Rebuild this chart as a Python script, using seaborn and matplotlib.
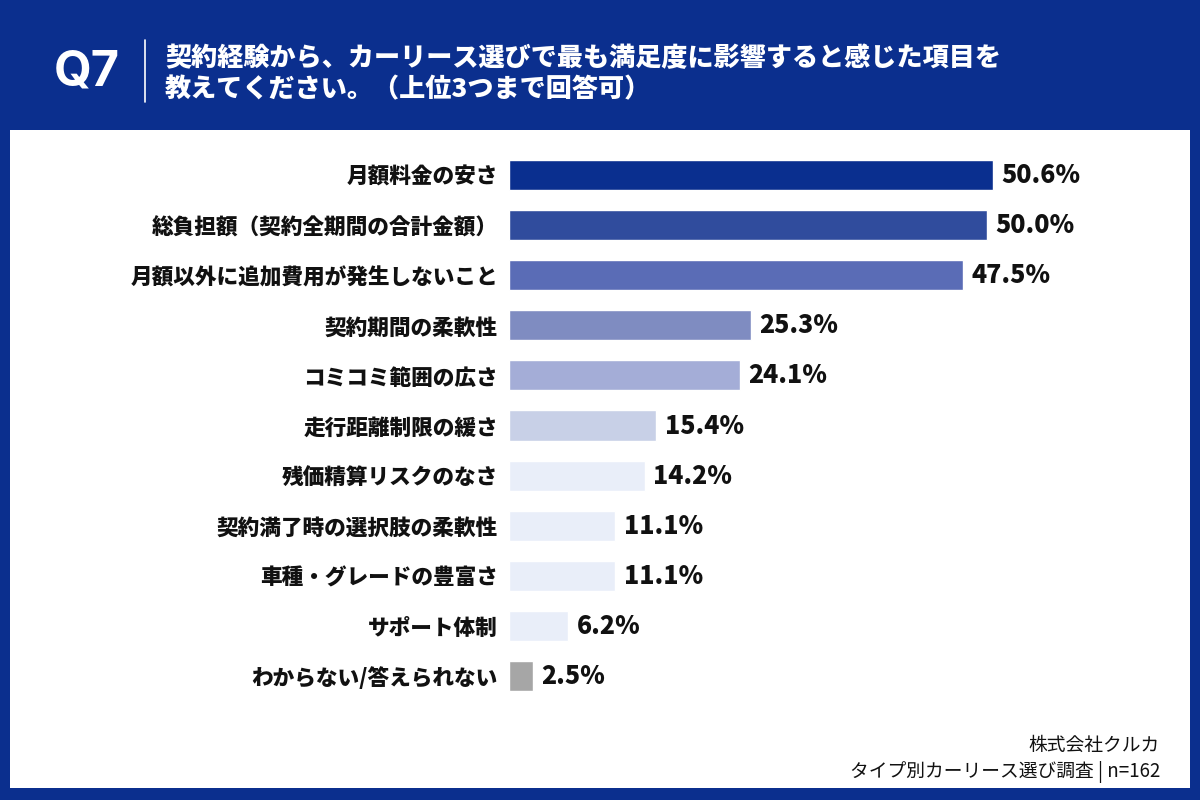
import matplotlib
matplotlib.use("Agg")
import matplotlib.pyplot as plt
import seaborn as sns
from matplotlib.patches import Rectangle
from matplotlib.lines import Line2D

# --- data ---
items = [
    "月額料金の安さ",
    "総負担額（契約全期間の合計金額）",
    "月額以外に追加費用が発生しないこと",
    "契約期間の柔軟性",
    "コミコミ範囲の広さ",
    "走行距離制限の緩さ",
    "残価精算リスクのなさ",
    "契約満了時の選択肢の柔軟性",
    "車種・グレードの豊富さ",
    "サポート体制",
    "わからない/答えられない",
]
shares = [50.6, 50.0, 47.5, 25.3, 24.1, 15.4, 14.2, 11.1, 11.1, 6.2, 2.5]
bar_colors = ["#0a2f8f", "#304c9d", "#5a6cb6", "#7f8cc1", "#a4add7", "#c8d0e7",
              "#e9eef9", "#e9eef9", "#e9eef9", "#e9eef9", "#a6a6a6"]

title_lines = "契約経験から、カーリース選びで最も満足度に影響すると感じた項目を\n教えてください。（上位3つまで回答可）"
source_lines = "株式会社クルカ\nタイプ別カーリース選び調査 | n=162"

navy = "#0b2f8e"

sns.set_theme(style="white")
plt.rcParams['font.family'] = ['Noto Sans CJK JP', 'DejaVu Sans']

fig = plt.figure(figsize=(12, 8), dpi=100)
fig.patch.set_facecolor(navy)

# white panel (behind the chart)
fig.patches.append(Rectangle((10 / 1200, 1 - 788 / 800), 1180 / 1200, 658 / 800,
                             transform=fig.transFigure, facecolor="white",
                             edgecolor="none", zorder=-10))

# header
fig.text(54 / 1200, 1 - 72 / 800, "Q7", color="white", fontsize=35,
         fontweight="bold", va="center", ha="left", family=['Inter', 'DejaVu Sans'])
fig.lines.append(Line2D([145 / 1200, 145 / 1200], [1 - 40 / 800, 1 - 102 / 800],
                        transform=fig.transFigure, color="white", lw=1.2))
fig.text(165 / 1200, 1 - 74 / 800, title_lines, color="white", fontsize=18.8,
         fontweight="heavy", va="center", ha="left", linespacing=1.25)

# chart
ax = fig.add_axes([509 / 1200, 1 - 701 / 800, 574 / 1200, 551 / 800], zorder=5)
ax.set_facecolor("none")
sns.barplot(x=shares, y=items, hue=items, palette=bar_colors, legend=False,
            orient="h", width=0.6, ax=ax, saturation=1)
ax.set_xlim(0, 60)
ax.set_ylim(10.5, -0.5)
for s in ax.spines.values():
    s.set_visible(False)
ax.set_xticks([])
ax.set_xlabel("")
ax.set_ylabel("")
ax.tick_params(axis="y", length=0, pad=8)
for lab in ax.get_yticklabels():
    lab.set_fontsize(15.6)
    lab.set_fontweight("heavy")
    lab.set_color("#111111")

for i, v in enumerate(shares):
    ax.annotate(f"{v:.1f}%", xy=(v, i), xytext=(6, 0), textcoords="offset points",
                va="center", ha="left", fontsize=18, fontweight="heavy",
                color="#111111")

# source
fig.text(1160 / 1200, 1 - 759 / 800, source_lines, color="#111111", fontsize=13.5,
         va="center", ha="right", linespacing=1.35)

fig.savefig("out.png", dpi=100, facecolor=navy)
